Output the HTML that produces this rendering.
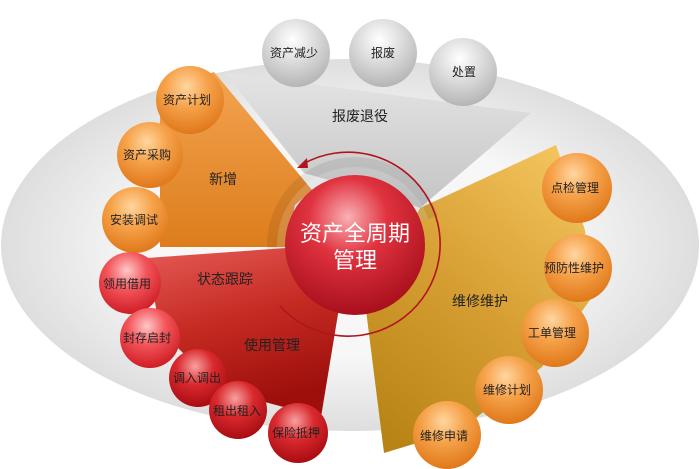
<!DOCTYPE html>
<html><head><meta charset="utf-8"><style>
html,body{margin:0;padding:0;background:#fff;width:700px;height:469px;overflow:hidden}
text{font-family:"Liberation Sans","Noto Sans CJK SC",sans-serif}
</style></head><body>
<svg width="700" height="469" viewBox="0 0 700 469" xmlns="http://www.w3.org/2000/svg">
<defs>
<radialGradient id="ell" cx="50%" cy="50%" r="50%"><stop offset="0.6" stop-color="#f7f7f7"/><stop offset="1" stop-color="#dedede"/></radialGradient>
<linearGradient id="gGray" x1="0" y1="0" x2="0" y2="1"><stop offset="0" stop-color="#e4e4e4"/><stop offset="1" stop-color="#c4c4c4"/></linearGradient>
<linearGradient id="gOr" x1="0" y1="0" x2="0" y2="1"><stop offset="0" stop-color="#f3a451"/><stop offset="1" stop-color="#dd7d1c"/></linearGradient>
<linearGradient id="gRed" x1="0" y1="0" x2="0.3" y2="1"><stop offset="0" stop-color="#e65a56"/><stop offset="0.5" stop-color="#c52b22"/><stop offset="1" stop-color="#9e0f0c"/></linearGradient>
<linearGradient id="gGold" x1="0.8" y1="0" x2="0.2" y2="1"><stop offset="0" stop-color="#f2c35c"/><stop offset="0.5" stop-color="#d79f33"/><stop offset="1" stop-color="#b98416"/></linearGradient>
<radialGradient id="bO" cx="45%" cy="30%" r="70%"><stop offset="0" stop-color="#ffd6a0"/><stop offset="0.45" stop-color="#f6a24a"/><stop offset="1" stop-color="#e0781a"/></radialGradient>
<radialGradient id="bG" cx="45%" cy="30%" r="70%"><stop offset="0" stop-color="#ffffff"/><stop offset="0.5" stop-color="#dadada"/><stop offset="1" stop-color="#b5b5b5"/></radialGradient>
<radialGradient id="bR" cx="45%" cy="30%" r="70%"><stop offset="0" stop-color="#ffc8c8"/><stop offset="0.45" stop-color="#f2555a"/><stop offset="1" stop-color="#cf1d25"/></radialGradient>
<radialGradient id="bDR" cx="45%" cy="30%" r="70%"><stop offset="0" stop-color="#f8a0a0"/><stop offset="0.45" stop-color="#d92a2e"/><stop offset="1" stop-color="#a80c12"/></radialGradient>
<radialGradient id="cen" cx="45%" cy="30%" r="70%"><stop offset="0" stop-color="#f9b0b4"/><stop offset="0.4" stop-color="#e0323f"/><stop offset="1" stop-color="#a8101c"/></radialGradient>
<clipPath id="ul"><polygon points="355,245 250,250 250,120 440,120 440,215"/></clipPath>
</defs>
<ellipse cx="350" cy="245" rx="349" ry="186" fill="url(#ell)"/>
<polygon points="225,73 531,113 420,208 395,198 350,186 304,173" fill="url(#gGray)"/>
<polygon points="214,72 312,190 295,205 286,247 160,247 160,90" fill="url(#gOr)"/>
<polygon points="286,248 147,258 160,330 220,390 321,417 339,308 320,290" fill="url(#gRed)"/>
<polygon points="556,145 585,230 590,300 542,367 460,430 384,453 366,310 420,208" fill="url(#gGold)"/>
<g clip-path="url(#ul)">
<circle cx="355" cy="245" r="88" fill="rgba(0,0,0,0.08)"/>
<circle cx="355" cy="245" r="78" fill="rgba(255,255,255,0.15)"/>
</g>
<path d="M303,164 A92,92 0 1 1 280,306" fill="none" stroke="#b0141c" stroke-width="1.6"/>
<polygon points="297,168 307,158 308,168" fill="#b0141c"/>
<circle cx="355" cy="245" r="70" fill="url(#cen)"/>
<text x="355" y="241" font-size="22" fill="#fff" text-anchor="middle">资产全周期</text>
<text x="355" y="268" font-size="22" fill="#fff" text-anchor="middle">管理</text>
<g font-size="12" fill="#222" text-anchor="middle">
<circle cx="296" cy="53" r="34" fill="url(#bG)"/><text x="294" y="57">资产减少</text>
<circle cx="383" cy="53" r="34" fill="url(#bG)"/><text x="383" y="57">报废</text>
<circle cx="463" cy="72" r="34" fill="url(#bG)"/><text x="464" y="76">处置</text>
<circle cx="190" cy="100" r="34" fill="url(#bO)"/><text x="187" y="104">资产计划</text>
<circle cx="150" cy="155" r="33" fill="url(#bO)"/><text x="147" y="159">资产采购</text>
<circle cx="135" cy="220" r="33" fill="url(#bO)"/><text x="134" y="224">安装调试</text>
<circle cx="130" cy="283" r="31" fill="url(#bR)"/><text x="127" y="288">领用借用</text>
<circle cx="150" cy="338" r="30" fill="url(#bR)"/><text x="147" y="342">封存启封</text>
<circle cx="198" cy="378" r="29" fill="url(#bDR)"/><text x="197" y="382">调入调出</text>
<circle cx="238" cy="410" r="29" fill="url(#bDR)"/><text x="237" y="415">租出租入</text>
<circle cx="298" cy="433" r="30" fill="url(#bDR)"/><text x="296" y="437">保险抵押</text>
<circle cx="577" cy="188" r="35" fill="url(#bO)"/><text x="575" y="192">点检管理</text>
<circle cx="578" cy="268" r="34" fill="url(#bO)"/><text x="574" y="272">预防性维护</text>
<circle cx="555" cy="333" r="34" fill="url(#bO)"/><text x="552" y="337">工单管理</text>
<circle cx="509" cy="390" r="34" fill="url(#bO)"/><text x="507" y="394">维修计划</text>
<circle cx="447" cy="435" r="34" fill="url(#bO)"/><text x="444" y="440">维修申请</text>
</g>
<g font-size="14" fill="#222" text-anchor="middle">
<text x="360" y="121">报废退役</text>
<text x="223" y="184">新增</text>
<text x="225" y="284">状态跟踪</text>
<text x="272" y="350">使用管理</text>
<text x="480" y="306">维修维护</text>
</g>
</svg>
</body></html>
